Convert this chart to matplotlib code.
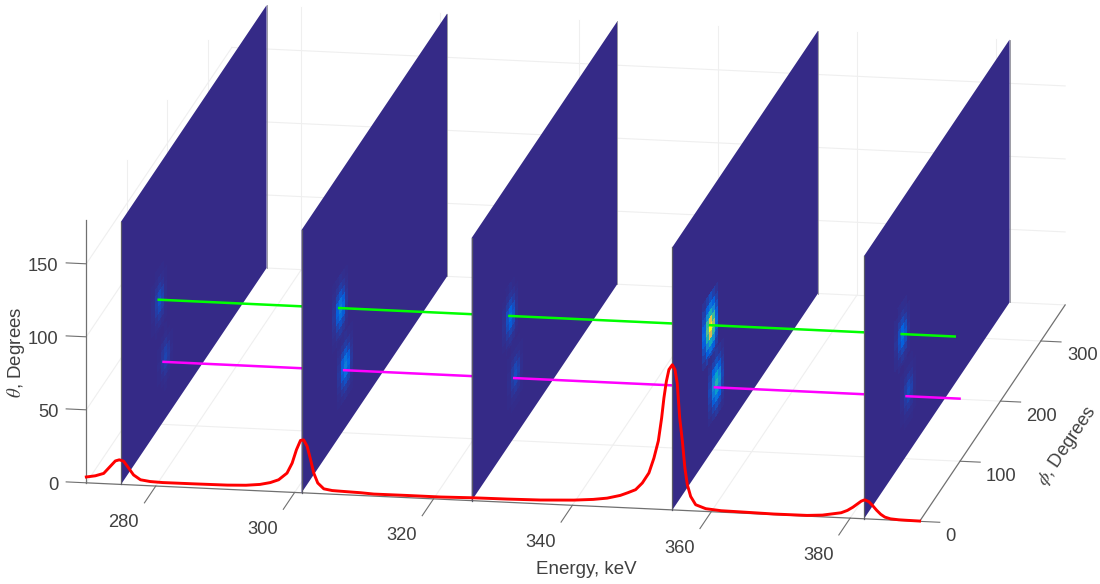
import numpy as np
import matplotlib
matplotlib.use("Agg")
import matplotlib.pyplot as plt
from matplotlib.colors import LinearSegmentedColormap
from mpl_toolkits.mplot3d import proj3d

# spectrum (phi = 0 plane)
spec_energy = [270, 271.3, 272.5, 273.46, 274.18, 274.75, 275.37, 276.1, 276.8, 277.8, 279.2, 281, 285.4, 290.3,
               293, 295, 296.5, 297.7, 298.9, 299.64, 300.26, 300.84, 301.3, 301.8, 302.3, 302.75, 303.33, 304.2,
               305.4, 306.6, 309.5, 311.4, 316.2, 321, 325.8, 330.6, 335.4, 340.2, 343, 345, 346.9, 348,
               349.1, 350.07, 351.02, 351.74, 352.38, 352.85, 353.18, 353.53, 353.9, 354.39, 354.77, 355.1, 355.45,
               355.84, 356.2, 356.55, 357.03, 357.75, 359.2, 361.4, 364.2, 369, 373.8, 376, 377.6, 378.7, 379.6,
               380.4, 381, 381.6, 382.1, 382.7, 383.2, 383.8, 384.4, 385, 385.8, 387, 388.2, 390]
spec_height = [4, 5.1, 7, 12.1, 15.9, 16.8, 16, 11.4, 6.9, 3.8, 2.9, 2.6, 2.7, 2.9,
               3.4, 4.4, 6, 8.2, 13, 20, 29.3, 35.8, 36.3, 32, 22.9, 13.9, 7.2, 3.4,
               2.5, 2.3, 1.9, 1.4, 1.5, 1.5, 2, 2.2, 2.6, 3.6, 4.7, 6, 8.3, 10.4,
               12.7, 17.5, 24.6, 34.9, 46.9, 62.6, 76.4, 87.8, 96, 99.4, 96.2, 86.9, 63.3,
               47.3, 29.1, 17.8, 9.8, 4.3, 1.9, 1, 0.8, 0.4, 0.5, 1.2, 2.5, 3.4, 5.2,
               7.6, 9.8, 12, 13, 11.8, 9.5, 6.3, 3.6, 1.8, 0.8, 0.4, 0.3, 0.2]

panel_energy = [275, 301, 325.5, 354.4, 382]
upper_peak = (94, 87)    # phi, theta
lower_peak = (108, 43)
upper_beam = (90, 89.5)
lower_beam = (102, 42)
upper_amp = [0.09, 0.22, 0.15, 1.0, 0.16]
lower_amp = [0.06, 0.22, 0.08, 0.45, 0.08]

# relative intensity around a peak, rows theta, columns phi
peak_phi = [-18.75, -11.25, -3.75, 3.75, 11.25, 18.75]
peak_theta = [-22.5, -17.5, -12.5, -7.5, -2.5, 2.5, 7.5, 12.5, 17.5, 22.5]
peak_cells = np.array([
    [0.02, 0.05, 0.08, 0.05, 0.02],
    [0.05, 0.12, 0.18, 0.12, 0.05],
    [0.08, 0.25, 0.40, 0.28, 0.08],
    [0.12, 0.45, 0.75, 0.50, 0.12],
    [0.15, 0.55, 1.00, 0.65, 0.15],
    [0.12, 0.50, 0.80, 0.50, 0.12],
    [0.08, 0.28, 0.42, 0.25, 0.08],
    [0.05, 0.12, 0.18, 0.12, 0.05],
    [0.02, 0.05, 0.08, 0.05, 0.02],
])

energy_ticks = [280, 300, 320, 340, 360, 380]
phi_ticks = [0, 100, 200, 300]
theta_ticks = [0, 50, 100, 150]

plt.rcParams["font.family"] = ["Liberation Sans", "DejaVu Sans"]
plt.rcParams["mathtext.fontset"] = "stix"

parula = LinearSegmentedColormap.from_list("parula", [
    "#352a87", "#0363e1", "#1485d4", "#06a7c6", "#38b99e",
    "#92bf73", "#d9ba56", "#fcce2e", "#f9fb0e"])

text_col = "#404040"
axis_col = "#707070"
grid_col = "#efefef"

fig = plt.figure(figsize=(11, 5.84), dpi=100)
ax = fig.add_axes([-33.3 / 1100, -287.5 / 584, 1186 / 1100, 1186 / 584], projection="3d",
                  proj_type="ortho", computed_zorder=False)
ax.view_init(elev=15.2, azim=-80)
ax.set_box_aspect((846, 838, 272.3))
ax.set_xlim(270, 390, view_margin=0)
ax.set_ylim(0, 360, view_margin=0)
ax.set_zlim(0, 180, view_margin=0)
ax.set_axis_off()


def label(e, p, t, s, **kw):
    # text at a data position, placed in 2D so its box is where it is drawn
    x, y, _ = proj3d.proj_transform(e, p, t, ax.get_proj())
    ax.text2D(x, y, s, transform=ax.transData, va="center", fontsize=13.2, color=text_col, **kw)


# grid on the floor and the two back walls
for e in energy_ticks:
    ax.plot([e, e], [0, 360], [0, 0], color=grid_col, lw=0.8, zorder=0)
    ax.plot([e, e], [360, 360], [0, 180], color=grid_col, lw=0.8, zorder=0)
for p in phi_ticks[1:]:
    ax.plot([270, 390], [p, p], [0, 0], color=grid_col, lw=0.8, zorder=0)
    ax.plot([270, 270], [p, p], [0, 180], color=grid_col, lw=0.8, zorder=0)
for t in theta_ticks[1:]:
    ax.plot([270, 270], [0, 360], [t, t], color=grid_col, lw=0.8, zorder=0)
    ax.plot([270, 390], [360, 360], [t, t], color=grid_col, lw=0.8, zorder=0)
ax.plot([270, 270], [0, 360], [0, 0], color=grid_col, lw=0.8, zorder=0)
ax.plot([270, 390], [360, 360], [0, 0], color=grid_col, lw=0.8, zorder=0)

# axis lines, ticks and labels
ax.plot([270, 390], [0, 0], [0, 0], color=axis_col, lw=0.9, zorder=1)
ax.plot([270, 270], [0, 0], [0, 180], color=axis_col, lw=0.9, zorder=1)
ax.plot([390, 390], [0, 360], [0, 0], color=axis_col, lw=0.9, zorder=1)
for e in energy_ticks:
    ax.plot([e, e], [0, -28], [0, 0], color=axis_col, lw=0.8, zorder=1)
    label(e - 1.1, -60, -0.8, str(e), ha="center")
for t in theta_ticks:
    ax.plot([270, 267.1], [0, 0], [t, t], color=axis_col, lw=0.8, zorder=1)
    label(266, 0, t - 2.5, str(t), ha="right")
for p in phi_ticks:
    ax.plot([390, 392.9], [p, p], [0, 0], color=axis_col, lw=0.8, zorder=1)
    label(394.9, p - 19.8, -1, str(p), ha="left")

fig.text(586 / 1100, 1 - 569 / 584, "Energy, keV", ha="center", va="center", fontsize=13.5, color=text_col)
fig.text(16 / 1100, 1 - 352 / 584, r"$\theta$, Degrees", ha="center", va="center",
         rotation=90, fontsize=13.5, color=text_col)
fig.text(1067.5 / 1100, 1 - 446 / 584, r"$\phi$, Degrees", ha="center", va="center",
         rotation=56, fontsize=13.2, color=text_col)

# panels back to front, each beam segment sits in front of the panel it leaves
stops = panel_energy + [390]
for i, e in enumerate(panel_energy):
    z = 10 + 5 * i
    Y, Z = np.meshgrid([0, 360], [0, 180])
    ax.plot_surface(np.full_like(Y, e, dtype=float), Y, Z, color="#352a87", shade=False,
                    linewidth=0, antialiased=True, zorder=z)
    ax.plot([e, e], [0, 0], [0, 180], color="#5a5a66", lw=0.9, zorder=z + 0.5)
    ax.plot([e, e], [360, 360], [0, 180], color="#8c8c96", lw=0.6, zorder=z + 0.5)

    for (centre, amp) in ((upper_peak, upper_amp[i]), (lower_peak, lower_amp[i])):
        Yc, Zc = np.meshgrid(np.array(peak_phi) + centre[0], np.array(peak_theta) + centre[1])
        cols = parula(peak_cells * amp)
        ax.plot_surface(np.full_like(Yc, e, dtype=float), Yc, Zc, facecolors=cols, shade=False,
                        rstride=1, cstride=1, linewidth=0, antialiased=False, zorder=z + 1)

    ax.plot([e, stops[i + 1]], [upper_beam[0]] * 2, [upper_beam[1]] * 2, color="#00ff00", lw=1.8,
            solid_capstyle="butt", zorder=z + 2)
    ax.plot([e, stops[i + 1]], [lower_beam[0]] * 2, [lower_beam[1]] * 2, color="#ff00ff", lw=1.8,
            solid_capstyle="butt", zorder=z + 2)

ax.plot(spec_energy, np.zeros(len(spec_energy)), spec_height, color="#ff0000", lw=2.1,
        solid_joinstyle="round", zorder=50)

plt.savefig("out.png", dpi=100)
